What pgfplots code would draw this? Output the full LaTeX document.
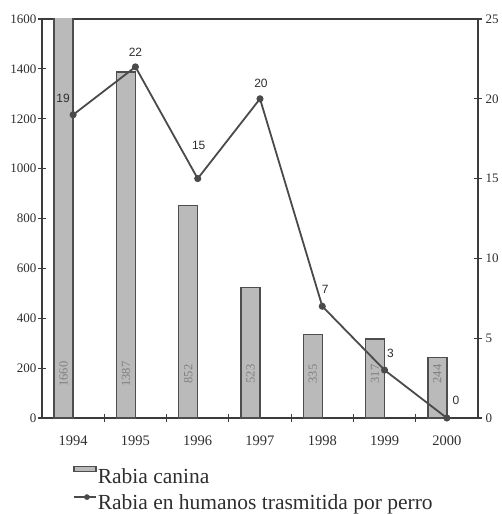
\documentclass[border=0pt]{standalone}
\usepackage{pgfplots}
\pgfplotsset{compat=1.18}
\usepackage{fontspec}
\setmainfont{Liberation Serif}
\newfontfamily\labelfont{Liberation Sans}

\definecolor{axisgray}{HTML}{3C3C3C}
\definecolor{textgray}{HTML}{2E2E2E}
\definecolor{linegray}{HTML}{4A4A4A}
\definecolor{barfill}{HTML}{BABABA}
\definecolor{baredge}{HTML}{4E4E4E}

% canine rabies cases per year (x = 0 for 1994)
\pgfplotstableread{
x v
0 1660
1 1387
2 852
3 523
4 335
5 317
6 244
}\bardata

% where the numbers inside the bars sit
\pgfplotstableread{
lx ly v
-0.1525 176 1660
0.8475 176 1387
1.8475 176 852
2.8475 176 523
3.8475 176 335
4.8475 176 317
5.8475 176 244
}\barlabels

% human cases transmitted by dogs, with label offsets in pt
\pgfplotstableread{
x y dx dy
0 19 -10 16
1 22 0 15
2 15 1 33
3 20 1 15
4 7 3 17
5 3 6 17
6 0 9 18
}\humdata

\begin{document}
\begin{tikzpicture}[x=1pt,y=1pt]
\path[use as bounding box] (0,0) rectangle (501,514);

\begin{axis}[
    at={(42pt,96pt)}, anchor=south west,
    scale only axis, width=436pt, height=399pt,
    xmin=-0.5, xmax=6.5, ymin=0, ymax=1600,
    xtick={0.5,1.5,2.5,3.5,4.5,5.5}, xticklabels={},
    extra x ticks={0,1,2,3,4,5,6},
    extra x tick labels={1994,1995,1996,1997,1998,1999,2000},
    extra x tick style={major tick length=0pt},
    xtick pos=bottom, ytick pos=left,
    ytick={0,200,...,1600},
    /pgf/number format/1000 sep={},
    /pgf/number format/assume math mode=true,
    tick align=center,
    major tick length=8pt,
    axis line style={axisgray, line width=1.8pt},
    every tick/.style={axisgray, line width=1.2pt},
    xticklabel style={font=\rmfamily\fontsize{14.5}{16}\selectfont, text=textgray, yshift=-14pt},
    yticklabel style={font=\rmfamily\fontsize{13}{15}\selectfont, text=textgray, xshift=2pt},
    legend style={at={(0.071,-0.12)}, anchor=north west, draw=none, fill=none,
        inner sep=0pt, font=\rmfamily\fontsize{21.5}{26}\selectfont, text=textgray,
        nodes={inner sep=1pt}, row sep=8pt},
    legend cell align=left,
]
\addplot[ybar, bar width=0.305, bar shift=-0.1525, fill=barfill, draw=baredge,
    line width=1.3pt,
    legend image code/.code={\draw[fill=barfill, draw=baredge, line width=1.2pt]
        (0pt,5pt) rectangle (22pt,10pt);}]
    table[x=x, y=v] {\bardata};
\addlegendentry{Rabia canina}

\addplot[draw=none, mark=none, forget plot, nodes near coords,
    point meta=explicit symbolic,
    every node near coord/.append style={rotate=90, anchor=center,
        font=\rmfamily\fontsize{12.5}{14}\selectfont, text=gray}]
    table[x=lx, y=ly, meta=v] {\barlabels};

\addlegendimage{legend image code/.code={
    \draw[linegray, line width=1.6pt] (0pt,6pt) -- (22pt,6pt);
    \fill[linegray] (13pt,6pt) circle (2.6pt);}}
\addlegendentry{Rabia en humanos trasmitida por perro}
\end{axis}

\begin{axis}[
    at={(42pt,96pt)}, anchor=south west,
    scale only axis, width=436pt, height=399pt,
    xmin=-0.5, xmax=6.5, ymin=0, ymax=25,
    axis x line=none, axis y line*=right,
    ytick={0,5,...,25},
    /pgf/number format/assume math mode=true,
    tick align=center,
    major tick length=8pt,
    axis line style={axisgray, line width=1.8pt},
    every tick/.style={axisgray, line width=1.2pt},
    yticklabel style={font=\rmfamily\fontsize{13}{15}\selectfont, text=textgray},
    clip=false,
]
\addplot[linegray, line width=1.8pt, mark=*, mark size=2.6pt,
    mark options={fill=linegray},
    nodes near coords, point meta=explicit symbolic,
    visualization depends on={\thisrow{dx} \as \dx},
    visualization depends on={\thisrow{dy} \as \dy},
    every node near coord/.append style={anchor=center, xshift=\dx pt,
        yshift=\dy pt, font=\labelfont\fontsize{12}{14}\selectfont, text=textgray}]
    table[x=x, y=y, meta=y] {\humdata};
\end{axis}
\end{tikzpicture}
\end{document}
